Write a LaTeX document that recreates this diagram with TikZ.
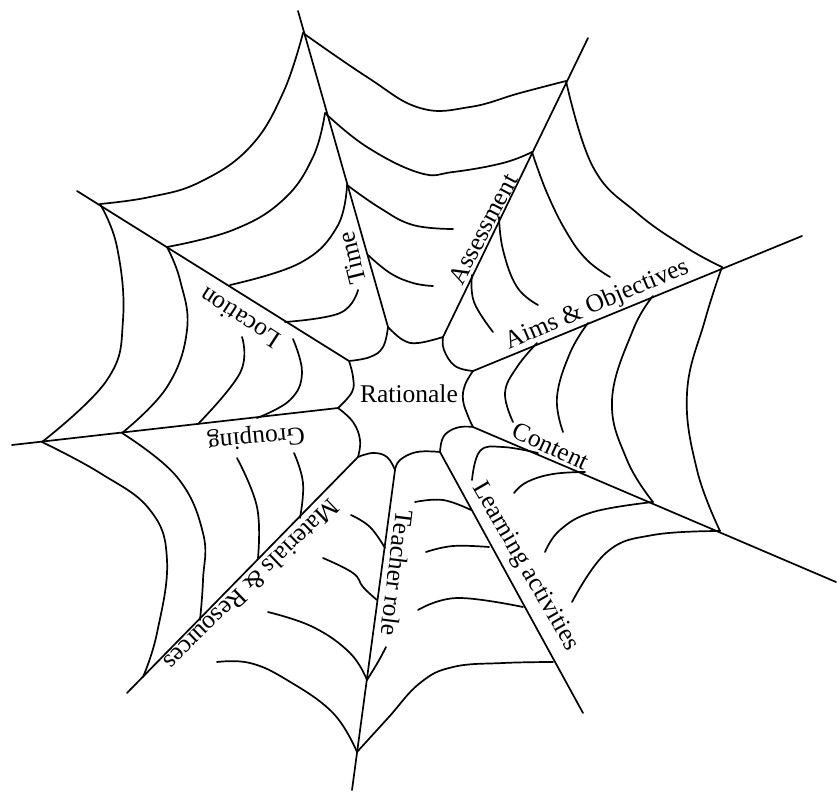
\documentclass[tikz,border=0pt]{standalone}
\usepackage{fontspec}
\setmainfont{Liberation Serif}
\begin{document}
\begin{tikzpicture}[x=1pt,y=-1pt,
  web/.style={line width=1.7pt, line cap=round, line join=round},
  thread/.style={web, smooth, tension=0.7},
  lbl/.style={font=\fontsize{25.5}{30}\selectfont, inner sep=0pt}]
\useasboundingbox (0,0) rectangle (837,792);
% ---- spoke points (Time)
\coordinate (tm0) at (388,327); \coordinate (tm1) at (368,255);
\coordinate (tm2) at (347,185); \coordinate (tm3) at (325,113);
\coordinate (tm4) at (303,33);  \coordinate (tmE) at (298,11);
% Location
\coordinate (lc0) at (349,361); \coordinate (lca) at (285,322);
\coordinate (lcb) at (230,285); \coordinate (lc3) at (167,247);
\coordinate (lc4) at (100,204); \coordinate (lcE) at (77,191);
% Assessment
\coordinate (as0) at (443,337); \coordinate (as1) at (472,275);
\coordinate (as2) at (499,217); \coordinate (as3) at (532,152);
\coordinate (as4) at (566,81);  \coordinate (asE) at (588,38);
% Aims & Objectives
\coordinate (ao0) at (473,371); \coordinate (ao1) at (537,343);
\coordinate (ao2) at (588,323); \coordinate (ao3) at (653,296);
\coordinate (ao4) at (722,267); \coordinate (aoE) at (802,236);
% Content
\coordinate (ct0) at (473,427); \coordinate (ct1) at (538,453);
\coordinate (ct2) at (585,472); \coordinate (ct3) at (653,502);
\coordinate (ct4) at (720,531); \coordinate (ctE) at (836,582);
% Learning activities
\coordinate (la0) at (440,452); \coordinate (la1) at (471,510);
\coordinate (la2) at (489,547); \coordinate (la3) at (523,607);
\coordinate (la4) at (553,662); \coordinate (laE) at (583,713);
% Teacher role
\coordinate (tr0) at (395,470); \coordinate (tr1) at (385,548);
\coordinate (tr2) at (377,600); \coordinate (tr3) at (367,680);
\coordinate (tr4) at (357,752); \coordinate (trE) at (352,790);
% Materials & Resources
\coordinate (mr0) at (358,457); \coordinate (mr1) at (300,518);
\coordinate (mr2) at (258,558); \coordinate (mr3) at (200,620);
\coordinate (mr4) at (143,677); \coordinate (mrE) at (127,693);
% Grouping
\coordinate (gr0) at (338,408); \coordinate (gr1) at (257,418);
\coordinate (gr2) at (198,424); \coordinate (gr3) at (122,433);
\coordinate (gr4) at (42,442);  \coordinate (grE) at (12,445);

% ---- spokes
\foreach \s in {tm,lc,as,ao,ct,la,tr,mr,gr}
  \draw[web] (\s0) -- (\s E);

% ---- inner ring
\draw[thread] plot coordinates {(tm0) (403,340) (418,343) (443,337)};
\draw[thread] plot coordinates {(as0) (444,350) (455,366) (ao0)};
\draw[thread] plot coordinates {(ao0) (465,385) (463,400) (468,416) (ct0)};
\draw[thread] plot coordinates {(ct0) (460,427) (448,432) (442,440) (la0)};
\draw[thread] plot coordinates {(la0) (417,452) (400,460) (tr0)};
\draw[thread] plot coordinates {(tr0) (387,457) (373,453) (mr0)};
\draw[thread] plot coordinates {(mr0) (360,440) (353,422) (gr0)};
\draw[thread] plot coordinates {(gr0) (352,392) (353,377) (lc0)};
\draw[thread] plot coordinates {(lc0) (370,357) (383,347) (tm0)};

% ---- Time / Assessment sector
\draw[thread] plot coordinates {(tm4) (367,77) (420,108) (470,107) (520,93) (as4)};
\draw[thread] plot coordinates {(tm3) (367,147) (420,173) (453,172) (503,163) (as3)};
\draw[thread] plot coordinates {(tm2) (380,208) (413,225) (453,229)};
\draw[thread] plot coordinates {(tm1) (390,273) (413,283) (433,286)};

% ---- Assessment / Aims sector
\draw[thread] plot coordinates {(as4) (593,167) (637,213) (687,248) (ao4)};
\draw[thread] plot coordinates {(as3) (547,193) (567,233) (587,260) (610,277)};
\draw[thread] plot coordinates {(as2) (503,250) (517,287) (538,305)};
\draw[thread] plot coordinates {(as1) (474,302) (493,332)};

% ---- Aims / Content sector
\draw[thread] plot coordinates {(ao4) (705,320) (687,393) (697,470) (ct4)};
\draw[thread] plot coordinates {(ao3) (633,330) (612,400) (627,460) (ct3)};
\draw[thread] plot coordinates {(ao2) (570,353) (557,397) (563,432)};
\draw[thread] plot coordinates {(ao1) (517,367) (505,393) (513,422)};

% ---- Content / Learning sector
\draw[thread] plot coordinates {(ct4) (653,535) (607,552) (572,602)};
\draw[thread] plot coordinates {(ct3) (593,512) (560,530) (545,552)};
\draw[thread] plot coordinates {(ct2) (553,474) (527,482) (514,493)};
\draw[thread] plot coordinates {(ct1) (503,447) (480,451) (472,480)};

% ---- Learning / Teacher sector
\draw[thread] plot coordinates {(la1) (443,500) (415,502)};
\draw[thread] plot coordinates {(la2) (453,546) (426,552)};
\draw[thread] plot coordinates {(la3) (457,598) (418,610)};
\draw[thread] plot coordinates {(la4) (503,663) (453,667) (420,683) (388,718) (tr4)};
\draw[thread] plot coordinates {(tr3) (378,662) (386,647)};

% ---- Teacher / Materials sector
\draw[thread] plot coordinates {(tr4) (333,713) (287,680) (250,663) (217,662)};
\draw[thread] plot coordinates {(tr3) (350,653) (313,627) (268,612)};
\draw[thread] plot coordinates {(tr2) (363,587) (353,573) (323,558)};
\draw[thread] plot coordinates {(tr1) (370,527) (351,515)};

% ---- Materials / Grouping sector
\draw[thread] plot coordinates {(gr4) (100,473) (150,510) (167,560) (157,633) (mr4)};
\draw[thread] plot coordinates {(gr3) (177,477) (203,533) (203,580) (mr3)};
\draw[thread] plot coordinates {(mr2) (257,507) (237,458)};
\draw[thread] plot coordinates {(mr1) (303,483) (294,453)};

% ---- Grouping / Location sector
\draw[thread] plot coordinates {(lc4) (117,247) (123,320) (107,380) (gr4)};
\draw[thread] plot coordinates {(lc3) (180,280) (187,330) (167,387) (gr3)};
\draw[thread] plot coordinates {(242,337) (240,373) (gr2)};
\draw[thread] plot coordinates {(293,339) (302,373) (290,400) (gr1)};

% ---- Location / Time sector
\draw[thread] plot coordinates {(lc4) (150,197) (200,182) (250,147) (283,93) (tm4)};
\draw[thread] plot coordinates {(lc3) (233,230) (283,200) (313,157) (tm3)};
\draw[thread] plot coordinates {(lcb) (300,263) (337,227) (tm2)};
\draw[thread] plot coordinates {(lca) (340,313) (358,290)};

% ---- labels
\node[lbl] (rat) at (409,394) {Rationale};
\node[lbl, rotate=104] (time) at (352,258) {Time};
\node[lbl, rotate=62] (assess) at (483,229) {Assessment};
\node[lbl, rotate=23] (aims) at (597,305) {Aims \& Objectives};
\node[lbl, rotate=-25] (cont) at (551,446) {Content};
\node[lbl, rotate=-60] (learn) at (525,567) {Learning activities};
\node[lbl, rotate=-97] (teach) at (397,573) {Teacher role};
\node[lbl, rotate=-136] (mat) at (252,585) {Materials \& Resources};
\node[lbl, rotate=-175] (group) at (256,437) {Grouping};
\node[lbl, rotate=147] (loc) at (240,318) {Location};
\end{tikzpicture}
\end{document}
